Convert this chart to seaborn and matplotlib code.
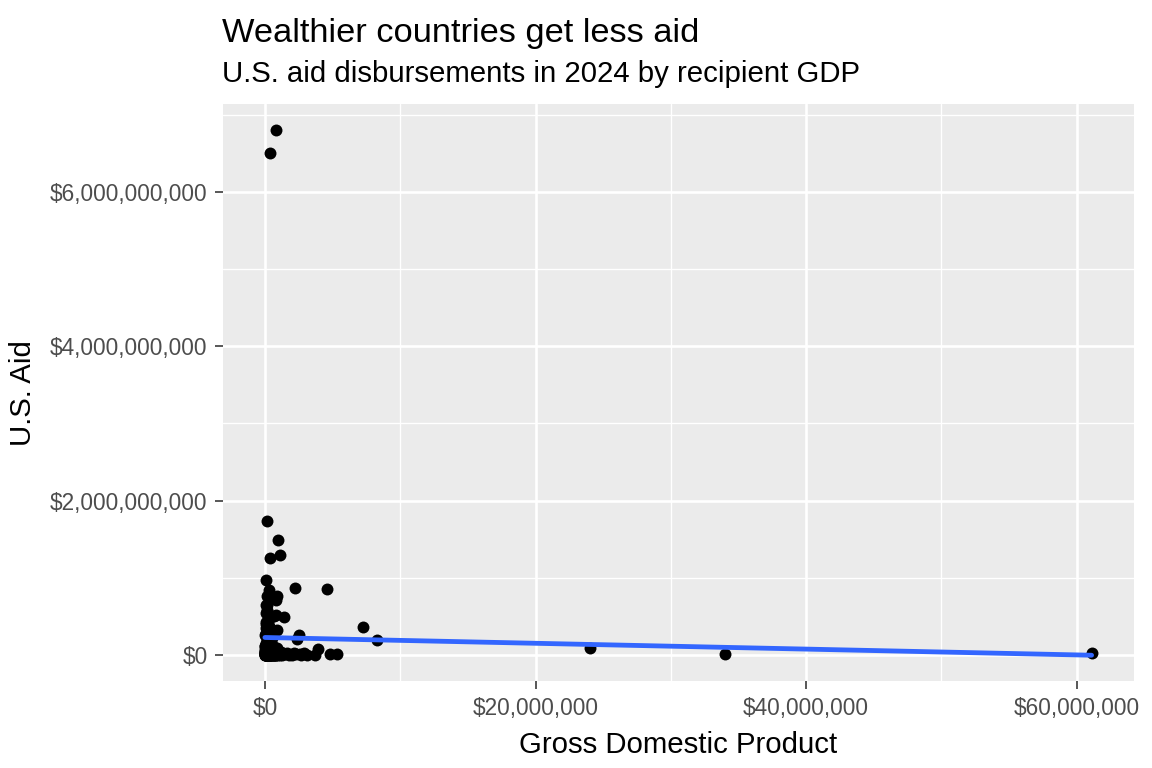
import matplotlib
matplotlib.use("Agg")
import matplotlib.pyplot as plt
from matplotlib.ticker import FuncFormatter, MultipleLocator
import seaborn as sns
import pandas as pd

# recipient GDP (millions of dollars) and U.S. aid (billions of dollars)
gdp_m = [0.79, 0.35, 0.12, 1.00, 1.15, 0.35, 0.07, 2.20, 4.60, 0.27,
         0.90, 0.79, 0.12, 0.12, 1.40, 0.80, 7.26, 8.26, 0.93, 2.50,
         2.40, 3.90, 3.70, 4.80, 5.30, 24.0, 34.0, 61.1,
         0.07, 0.07, 0.68, 0.07, 0.32, 0.07, 0.07, 0.44, 1.20, 1.67,
         2.15, 2.90, 0.00, 0.05, 0.68, 0.15, 0.20, 0.10, 0.30, 0.45,
         0.55, 0.05, 0.18, 0.25, 0.40, 0.60, 0.02, 0.12, 0.22, 0.35,
         0.50, 0.05, 0.15, 0.28, 0.38, 0.90, 1.00, 0.10, 0.20, 0.60,
         0.03, 0.08, 0.16, 0.42, 0.75, 1.50, 2.30, 2.60, 0.02, 0.30,
         # dense block at the bottom left
         0.01, 0.04, 0.06, 0.09, 0.11, 0.14, 0.17, 0.19, 0.21, 0.24,
         0.26, 0.29, 0.31, 0.33, 0.36, 0.39, 0.41, 0.44, 0.47, 0.52,
         0.57, 0.63, 0.70, 0.82, 0.95, 1.10, 1.30, 0.02, 0.05, 0.08,
         0.13, 0.18, 0.23, 0.27, 0.32, 0.37, 0.43, 0.48, 0.58, 0.66,
         0.01, 0.06, 0.11, 0.16, 0.21, 0.34, 0.46, 0.54, 0.72, 0.88,
         0.03, 0.09, 0.14, 0.24, 0.40, 1.80, 2.00, 2.70, 3.10, 0.19,
         0.00, 0.02, 0.04, 0.06, 0.08, 0.10, 0.12, 0.14, 0.16, 0.18,
         0.20, 0.22, 0.25, 0.28, 0.31, 0.34, 0.37, 0.40, 0.44, 0.48,
         0.01, 0.03, 0.05, 0.07, 0.09, 0.13, 0.17, 0.21, 0.26, 0.30,
         0.35, 0.39, 0.45, 0.50, 0.56, 0.62, 0.69, 0.77, 0.85, 0.98]
aid_b = [6.80, 6.51, 1.74, 1.49, 1.30, 1.25, 0.97, 0.87, 0.85, 0.84,
         0.76, 0.71, 0.76, 0.64, 0.49, 0.51, 0.355, 0.19, 0.32, 0.26,
         0.20, 0.08, 0.00, 0.01, 0.01, 0.087, 0.01, 0.017,
         0.65, 0.54, 0.50, 0.43, 0.37, 0.28, 0.15, 0.087, 0.04, 0.02,
         0.02, 0.02, 0.02, 0.003, 0.00, 0.58, 0.45, 0.40, 0.33, 0.27,
         0.22, 0.35, 0.30, 0.24, 0.18, 0.12, 0.25, 0.20, 0.16, 0.13,
         0.09, 0.10, 0.07, 0.05, 0.06, 0.09, 0.01, 0.03, 0.01, 0.03,
         0.05, 0.02, 0.01, 0.01, 0.02, 0.01, 0.01, 0.01, 0.12, 0.47,
         0.00, 0.01, 0.00, 0.02, 0.00, 0.01, 0.00, 0.03, 0.00, 0.01,
         0.00, 0.02, 0.00, 0.01, 0.00, 0.01, 0.00, 0.02, 0.00, 0.01,
         0.00, 0.01, 0.00, 0.00, 0.00, 0.00, 0.00, 0.04, 0.05, 0.06,
         0.04, 0.05, 0.03, 0.06, 0.04, 0.05, 0.03, 0.04, 0.02, 0.03,
         0.08, 0.07, 0.09, 0.06, 0.08, 0.07, 0.05, 0.06, 0.04, 0.03,
         0.11, 0.13, 0.10, 0.12, 0.11, 0.00, 0.00, 0.00, 0.00, 0.14,
         0.00, 0.00, 0.01, 0.00, 0.01, 0.00, 0.02, 0.00, 0.01, 0.00,
         0.00, 0.01, 0.00, 0.02, 0.00, 0.01, 0.00, 0.00, 0.01, 0.00,
         0.02, 0.03, 0.01, 0.02, 0.03, 0.02, 0.01, 0.03, 0.02, 0.01,
         0.00, 0.02, 0.01, 0.00, 0.01, 0.00, 0.01, 0.00, 0.00, 0.01]

df = pd.DataFrame({"gdp": [g * 1e6 for g in gdp_m],
                   "aid": [a * 1e9 for a in aid_b]})

sns.set_theme(style="darkgrid")
plt.rcParams["font.family"] = ["Liberation Sans", "DejaVu Sans"]

fig = plt.figure(figsize=(6, 4), dpi=192)
ax = fig.add_axes([0.194, 0.1133, 0.790, 0.751])
ax.set_facecolor("#EBEBEB")

sns.scatterplot(data=df, x="gdp", y="aid", color="black", s=20,
                linewidth=0, ax=ax, zorder=3)
sns.regplot(data=df, x="gdp", y="aid", scatter=False, ci=None,
            color="#3366FF", line_kws={"linewidth": 1.8, "zorder": 4}, ax=ax)

# ggplot-style 5% expansion around the data range
ax.set_xlim(-3.06e6, 64.2e6)
ax.set_ylim(-0.34e9, 7.14e9)

ax.xaxis.set_major_locator(MultipleLocator(20e6))
ax.xaxis.set_minor_locator(MultipleLocator(10e6))
ax.yaxis.set_major_locator(MultipleLocator(2e9))
ax.yaxis.set_minor_locator(MultipleLocator(1e9))
dollars = FuncFormatter(lambda v, p: "${:,.0f}".format(v))
ax.xaxis.set_major_formatter(dollars)
ax.yaxis.set_major_formatter(dollars)

ax.grid(which="major", color="white", linewidth=1.0)
ax.grid(which="minor", color="white", linewidth=0.5)
for s in ax.spines.values():
    s.set_visible(False)
ax.tick_params(which="major", length=3, width=0.6, color="#333333",
               labelsize=8.5, labelcolor="#4D4D4D", pad=3)
ax.tick_params(which="minor", length=0)
ax.tick_params(axis="x", bottom=True)
ax.tick_params(axis="y", left=True)

ax.set_xlabel("Gross Domestic Product", fontsize=11, color="black", labelpad=4)
ax.set_ylabel("U.S. Aid", fontsize=11, color="black", labelpad=5)

fig.text(0.193, 0.945, "Wealthier countries get less aid", fontsize=12.9,
         color="black", ha="left", va="baseline")
fig.text(0.193, 0.893, "U.S. aid disbursements in 2024 by recipient GDP",
         fontsize=11, color="black", ha="left", va="baseline")

fig.savefig("out.png", dpi=192)
